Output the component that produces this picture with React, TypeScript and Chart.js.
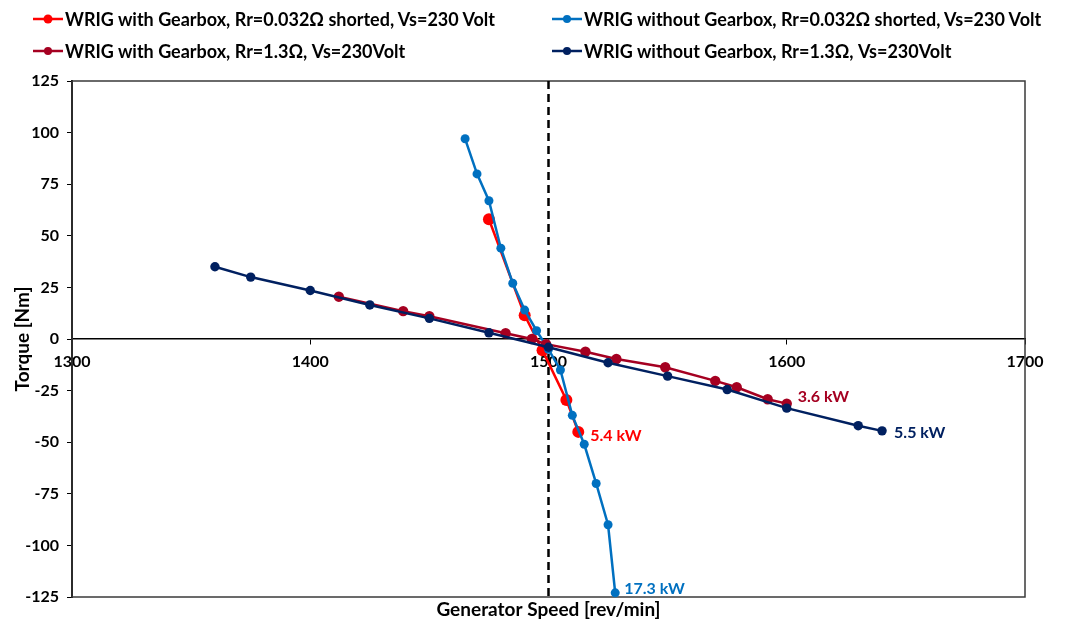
import React, { useEffect, useRef } from "react";
import { Chart, registerables } from "chart.js";
Chart.register(...registerables);

const FONT = "Lato, 'Open Sans', sans-serif";

// Series 1: WRIG with Gearbox, Rr=0.032Ω shorted
const speedGearShort = [1475, 1490, 1497.5, 1507.5, 1512.5];
const torqueGearShort = [58, 11.5, -5.5, -29.5, -45];

// Series 2: WRIG without Gearbox, Rr=0.032Ω shorted
const speedNoGearShort = [1465, 1470, 1475, 1480, 1485, 1490, 1495, 1500, 1505, 1510, 1515, 1520, 1525, 1528];
const torqueNoGearShort = [97, 80, 67, 44, 27, 14, 4, -5, -15, -37, -51, -70, -90, -123];

// Series 3: WRIG with Gearbox, Rr=1.3Ω
const speedGearRr = [1412, 1439, 1450, 1482, 1493, 1499, 1515.5, 1528.5, 1549, 1570, 1579, 1592, 1600];
const torqueGearRr = [20.5, 13.5, 11, 2.8, 0, -2.5, -6.2, -9.7, -13.7, -20.3, -23.4, -29.2, -31.3];

// Series 4: WRIG without Gearbox, Rr=1.3Ω
const speedNoGearRr = [1360, 1375, 1400, 1425, 1450, 1475, 1500, 1525, 1550, 1575, 1600, 1630, 1640];
const torqueNoGearRr = [35, 30, 23.5, 16.5, 10, 3, -4, -11.5, -18, -24.5, -33.5, -42, -44.5];

// Synchronous speed marker
const syncSpeed = [1500, 1500];
const syncTorque = [125, -125];

const seriesLabels = [
  "WRIG with Gearbox, Rr=0.032Ω shorted, Vs=230 Volt",
  "WRIG without Gearbox, Rr=0.032Ω shorted, Vs=230 Volt",
  "WRIG with Gearbox, Rr=1.3Ω, Vs=230Volt",
  "WRIG without Gearbox, Rr=1.3Ω, Vs=230Volt",
];
const powerLabels = ["5.4 kW", "17.3 kW", "3.6 kW", "5.5 kW"];

const xTicksMin = 1300;
const xTicksMax = 1700;
const xStep = 100;
const yTicksMin = -125;
const yTicksMax = 125;
const yStep = 25;

const COLORS = ["#FF0000", "#0070C0", "#A50021", "#002060"];
const RADII = [6, 4.5, 5.2, 4.7];
const LABEL_OFFSETS = [
  [12, 4],
  [9, -4],
  [11, -7],
  [12, 2],
];

const toPts = (xs: number[], ys: number[]) => xs.map((x, i) => ({ x, y: ys[i] }));

const framePlugin = {
  id: "frame",
  beforeDatasetsDraw(chart: any) {
    const { ctx, chartArea: a } = chart;
    ctx.save();
    ctx.strokeStyle = "#3a3a3a";
    ctx.lineWidth = 1.5;
    ctx.strokeRect(a.left, a.top, a.right - a.left, a.bottom - a.top);
    ctx.restore();
  },
};

const annotPlugin = {
  id: "annot",
  afterDatasetsDraw(chart: any) {
    const { ctx, chartArea: a } = chart;
    ctx.save();
    ctx.font = `bold 16px ${FONT}`;
    ctx.textBaseline = "middle";
    ctx.textAlign = "left";
    for (let i = 0; i < 4; i++) {
      const meta = chart.getDatasetMeta(chart.data.datasets.findIndex((d: any) => d.seriesIndex === i));
      const last = meta.data[meta.data.length - 1];
      ctx.fillStyle = COLORS[i];
      ctx.fillText(powerLabels[i], last.x + LABEL_OFFSETS[i][0], last.y + LABEL_OFFSETS[i][1]);
    }
    ctx.fillStyle = "#000";
    ctx.textAlign = "center";
    ctx.font = `bold 19px ${FONT}`;
    ctx.fillText("Generator Speed [rev/min]", (a.left + a.right) / 2, 610);
    ctx.restore();
  },
};

function LegendItem({ i, left, top }: { i: number; left: number; top: number }) {
  return (
    <div
      style={{
        position: "absolute",
        left,
        top,
        display: "flex",
        alignItems: "center",
        height: 20,
        fontFamily: FONT,
        fontWeight: "bold",
        fontSize: 18,
        color: "#000",
        whiteSpace: "nowrap",
      }}
    >
      <svg width={30} height={14} style={{ marginRight: 2 }}>
        <line x1={0} y1={7} x2={30} y2={7} stroke={COLORS[i]} strokeWidth={2.5} />
        <circle cx={15} cy={7} r={i === 0 ? 4.5 : 4} fill={COLORS[i]} />
      </svg>
      <span>{seriesLabels[i]}</span>
    </div>
  );
}

export default function App() {
  const ref = useRef<HTMLCanvasElement | null>(null);
  useEffect(() => {
    if (!ref.current) return;
    const xsAll = [speedGearShort, speedNoGearShort, speedGearRr, speedNoGearRr];
    const ysAll = [torqueGearShort, torqueNoGearShort, torqueGearRr, torqueNoGearRr];
    const drawOrder = [3, 2, 1, 0];
    const datasets: any[] = drawOrder.map((i) => ({
      seriesIndex: i,
      label: seriesLabels[i],
      data: toPts(xsAll[i], ysAll[i]),
      showLine: true,
      borderColor: COLORS[i],
      backgroundColor: COLORS[i],
      borderWidth: 2.5,
      pointRadius: RADII[i],
      pointBorderWidth: 0,
      pointHoverRadius: RADII[i],
      clip: false,
    }));
    datasets.push({
      seriesIndex: -1,
      label: "sync",
      data: toPts(syncSpeed, syncTorque),
      showLine: true,
      borderColor: "#000",
      borderWidth: 2.5,
      borderDash: [8, 5],
      pointRadius: 0,
    });
    const chart = new Chart(ref.current, {
      type: "scatter",
      data: { datasets },
      options: {
        responsive: false,
        animation: false,
        layout: { padding: { left: 0, top: 81, right: 45, bottom: 27 } },
        plugins: { legend: { display: false }, tooltip: { enabled: false } },
        scales: {
          x: {
            type: "linear",
            min: xTicksMin,
            max: xTicksMax,
            position: { y: 0 } as any,
            ticks: {
              stepSize: xStep,
              color: "#000",
              padding: 8,
              maxRotation: 0,
              font: { family: FONT, size: 16, weight: "bold" },
              callback: (v: any) => String(v),
            },
            grid: { display: true, drawOnChartArea: false, drawTicks: true, tickLength: 5, color: "#000" },
            border: { display: true, color: "#000", width: 1.5 },
          },
          y: {
            min: yTicksMin,
            max: yTicksMax,
            ticks: {
              stepSize: yStep,
              color: "#000",
              padding: 8,
              font: { family: FONT, size: 16, weight: "bold" },
              callback: (v: any) => String(v),
            },
            grid: { display: true, drawOnChartArea: false, drawTicks: true, tickLength: 5, color: "#000" },
            border: { display: true, color: "#000", width: 2 },
            title: {
              display: true,
              text: "Torque [Nm]",
              color: "#000",
              font: { family: FONT, size: 19, weight: "bold" },
              padding: { top: 11, bottom: 0 },
            },
            afterFit: (s: any) => {
              s.width = 72;
            },
          },
        },
      },
      plugins: [framePlugin, annotPlugin],
    });
    return () => chart.destroy();
  }, []);
  return (
    <div style={{ position: "fixed", left: 0, top: 0, width: 1070, height: 624, background: "#fff" }}>
      <canvas ref={ref} width={1070} height={624} style={{ position: "absolute", left: 0, top: 0 }} />
      <LegendItem i={0} left={33} top={9} />
      <LegendItem i={1} left={552} top={9} />
      <LegendItem i={2} left={33} top={41} />
      <LegendItem i={3} left={552} top={41} />
    </div>
  );
}
